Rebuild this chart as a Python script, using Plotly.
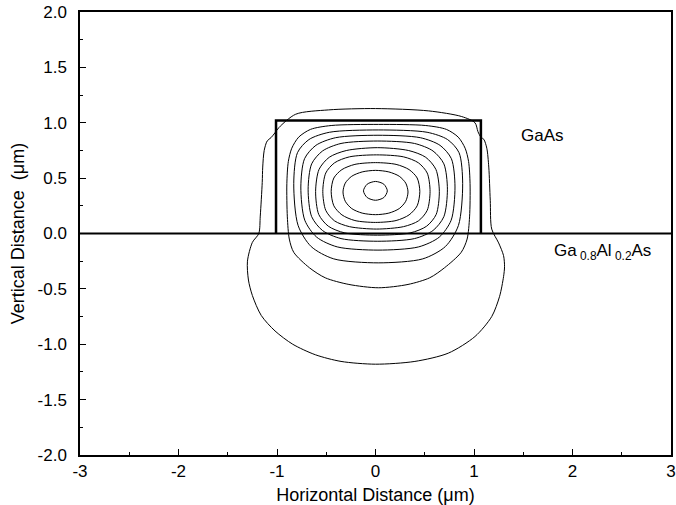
import plotly.graph_objects as go

# ---- axis ticks ----
x_tickvals = [-3, -2, -1, 0, 1, 2, 3]
x_ticktext = ["-3", "-2", "-1", "0", "1", "2", "3"]
y_tickvals = [2.0, 1.5, 1.0, 0.5, 0.0, -0.5, -1.0, -1.5, -2.0]
y_ticktext = ["2.0", "1.5", "1.0", "0.5", "0.0", "-0.5", "-1.0", "-1.5", "-2.0"]

# ---- structure: rib and interface ----
rib_x = [-1.01, -1.01, 1.07, 1.07]
rib_y = [0.0, 1.02, 1.02, 0.0]
interface_x = [-3.0, 3.0]
interface_y = [0.0, 0.0]

# ---- field contours, outermost first ----
c1_x = [0.0, 0.54, 0.875, 1.01, 1.04, 1.07, 1.10, 1.13, 1.15, 1.165, 1.18, 1.25, 1.30, 1.31, 1.30, 1.26, 1.18, 1.01,
        0.74, 0.40, 0.0, -0.35, -0.61, -0.84, -1.02, -1.16, -1.25, -1.29, -1.30, -1.25, -1.185, -1.17, -1.15, -1.145,
        -1.13, -1.10, -1.06, -1.02, -0.98, -0.81, -0.476, 0.0]
c1_y = [1.128, 1.107, 1.056, 1.0, 0.92, 0.87, 0.85, 0.77, 0.6, 0.3, 0.04, -0.085, -0.2, -0.3, -0.39, -0.567, -0.75,
        -0.93, -1.08, -1.155, -1.18, -1.155, -1.095, -1.0, -0.88, -0.74, -0.56, -0.42, -0.25, -0.08, 0.0, 0.157, 0.46,
        0.6, 0.75, 0.835, 0.866, 0.91, 0.957, 1.077, 1.116, 1.128]

c2_x = [0.03, 0.51, 0.72, 0.84, 0.91, 0.945, 0.96, 0.955, 0.93, 0.87, 0.70, 0.55, 0.33, 0.03, -0.27, -0.51, -0.67,
        -0.83, -0.875, -0.895, -0.90, -0.885, -0.85, -0.78, -0.66, -0.45, 0.03]
c2_y = [0.985, 0.975, 0.94, 0.87, 0.77, 0.65, 0.45, 0.15, -0.05, -0.17, -0.31, -0.40, -0.46, -0.49, -0.46, -0.40,
        -0.31, -0.17, -0.05, 0.15, 0.45, 0.65, 0.77, 0.87, 0.94, 0.975, 0.985]

c3_x = [0.028, 0.524, 0.732, 0.848, 0.885, 0.842, 0.709, 0.480, 0.028, -0.424, -0.653, -0.786, -0.83, -0.792, -0.676,
        -0.468, 0.028]
c3_y = [0.935, 0.914, 0.848, 0.730, 0.45, 0.073, -0.118, -0.229, -0.265, -0.229, -0.118, 0.073, 0.45, 0.730, 0.848,
        0.914, 0.935]

c4_x = [0.025, 0.455, 0.655, 0.770, 0.807, 0.768, 0.647, 0.438, 0.025, -0.388, -0.597, -0.718, -0.758, -0.720, -0.605,
        -0.405, 0.025]
c4_y = [0.887, 0.865, 0.796, 0.676, 0.42, 0.12, -0.033, -0.121, -0.15, -0.121, -0.033, 0.12, 0.42, 0.676, 0.796,
        0.865, 0.887]

c5_x = [0.023, 0.396, 0.584, 0.694, 0.73, 0.694, 0.584, 0.396, 0.023, -0.350, -0.538, -0.648, -0.684, -0.648, -0.538,
        -0.350, 0.023]
c5_y = [0.835, 0.813, 0.745, 0.629, 0.40, 0.152, 0.027, -0.046, -0.07, -0.046, 0.027, 0.152, 0.40, 0.629, 0.745,
        0.813, 0.835]

c6_x = [0.02, 0.337, 0.51, 0.613, 0.648, 0.616, 0.519, 0.351, 0.02, -0.311, -0.479, -0.576, -0.608, -0.573, -0.47,
        -0.297, 0.02]
c6_y = [0.775, 0.749, 0.688, 0.579, 0.38, 0.172, 0.066, 0.005, -0.015, 0.005, 0.066, 0.172, 0.38, 0.579, 0.688,
        0.749, 0.775]

c7_x = [0.01, 0.285, 0.436, 0.525, 0.554, 0.525, 0.436, 0.285, 0.01, -0.265, -0.416, -0.505, -0.535, -0.505, -0.416,
        -0.265, 0.01]
c7_y = [0.71, 0.692, 0.638, 0.546, 0.38, 0.209, 0.114, 0.062, 0.04, 0.062, 0.114, 0.209, 0.38, 0.546, 0.638, 0.692,
        0.71]

c8_x = [0.0, 0.209, 0.341, 0.423, 0.45, 0.423, 0.341, 0.209, 0.0, -0.209, -0.341, -0.423, -0.45, -0.423, -0.341,
        -0.209, 0.0]
c8_y = [0.64, 0.624, 0.577, 0.501, 0.38, 0.25, 0.168, 0.117, 0.10, 0.117, 0.168, 0.25, 0.38, 0.501, 0.577, 0.624,
        0.64]

c9_x = [0.0, 0.135, 0.241, 0.307, 0.33, 0.307, 0.241, 0.135, 0.0, -0.135, -0.241, -0.307, -0.33, -0.307, -0.241,
        -0.135, 0.0]
c9_y = [0.57, 0.556, 0.517, 0.455, 0.375, 0.291, 0.225, 0.184, 0.17, 0.184, 0.225, 0.291, 0.375, 0.455, 0.517, 0.556,
        0.57]

c10_x = [0.0, 0.085, 0.12, 0.085, 0.0, -0.085, -0.122, -0.085, 0.0]
c10_y = [0.47, 0.445, 0.385, 0.325, 0.30, 0.325, 0.385, 0.445, 0.47]

contours = [(c1_x, c1_y), (c2_x, c2_y), (c3_x, c3_y), (c4_x, c4_y), (c5_x, c5_y),
            (c6_x, c6_y), (c7_x, c7_y), (c8_x, c8_y), (c9_x, c9_y), (c10_x, c10_y)]

# ---- labels ----
label_gaas = "GaAs"
label_gaas_pos = (1.70, 0.887)
label_algaas = "Ga<sub> 0.8</sub>Al<sub> 0.2</sub>As"
label_algaas_pos = (1.79, -0.17)

FONT = "Arial, 'Liberation Sans', sans-serif"

fig = go.Figure()
for cx, cy in contours:
    fig.add_trace(go.Scatter(x=cx, y=cy, mode="lines",
                             line=dict(color="black", width=1, shape="spline", smoothing=0.8),
                             hoverinfo="skip", showlegend=False))

fig.add_trace(go.Scatter(x=interface_x, y=interface_y, mode="lines",
                         line=dict(color="black", width=2), hoverinfo="skip", showlegend=False))
fig.add_trace(go.Scatter(x=rib_x, y=rib_y, mode="lines",
                         line=dict(color="black", width=2.5), hoverinfo="skip", showlegend=False))

fig.add_annotation(x=label_gaas_pos[0], y=label_gaas_pos[1], text=label_gaas, showarrow=False,
                   xanchor="center", yanchor="middle", font=dict(family=FONT, size=17, color="black"))
fig.add_annotation(x=label_algaas_pos[0], y=label_algaas_pos[1], text=label_algaas, showarrow=False,
                   xanchor="left", yanchor="middle", font=dict(family=FONT, size=17, color="black"))

axis_common = dict(showgrid=False, zeroline=False, showline=True, linecolor="black", linewidth=1.5,
                   mirror=True, ticks="inside", ticklen=6, tickwidth=1.2, tickcolor="black",
                   automargin=False, ticklabeloverflow="allow",
                   tickfont=dict(family=FONT, size=17, color="black"))

fig.update_xaxes(range=[-3, 3], tickvals=x_tickvals, ticktext=x_ticktext,
                 minor=dict(ticks="inside", dtick=0.5, tick0=0, ticklen=3.5, tickwidth=1.2, tickcolor="black"),
                 title=dict(text="Horizontal Distance (μm)", font=dict(family=FONT, size=18, color="black"),
                            standoff=8),
                 **axis_common)
fig.update_yaxes(range=[-2, 2], tickvals=y_tickvals, ticktext=y_ticktext,
                 minor=dict(ticks="inside", dtick=0.25, tick0=0, ticklen=3.5, tickwidth=1.2, tickcolor="black"),
                 title=dict(text="Vertical Distance\u00a0\u00a0(μm)", font=dict(family=FONT, size=18, color="black"),
                            standoff=8),
                 ticklabelstandoff=8,
                 **axis_common)

fig.update_layout(width=676, height=505, margin=dict(l=80, r=5, t=12, b=50, autoexpand=False),
                  plot_bgcolor="white", paper_bgcolor="white", showlegend=False)

fig.write_html("out.html", config={"displayModeBar": False},
               post_script="document.body.style.margin='0';")
